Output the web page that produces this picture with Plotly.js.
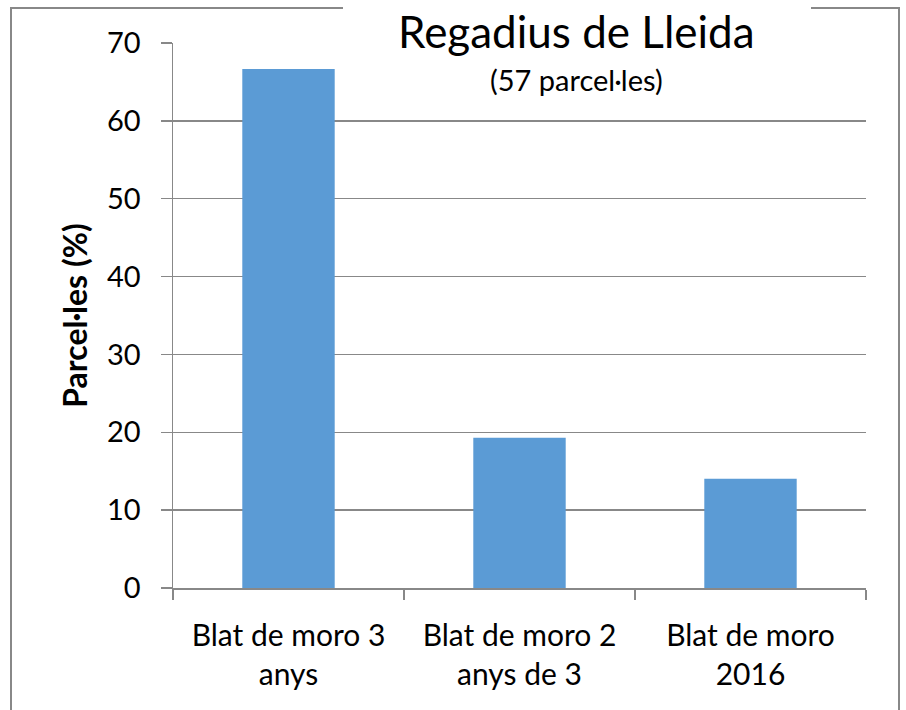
<!DOCTYPE html>
<html>
<head>
<meta charset="utf-8">
<script src="https://cdn.plot.ly/plotly-3.0.1.min.js"></script>
<style>html,body{margin:0;padding:0;background:#fff;}#chart{width:906px;height:710px;}</style>
</head>
<body>
<div id="chart"></div>
<script>
const categories = ["Blat de moro 3<br>anys", "Blat de moro 2<br>anys de 3", "Blat de moro<br>2016"];
const values = [66.67, 19.30, 14.04];
const yTicks = [0, 10, 20, 30, 40, 50, 60, 70];
const titleText = "Regadius de Lleida";
const subtitleText = "(57 parcel·les)";
const yTitle = "Parcel·les (%)";

const W = 906, H = 710;
const L = 173, R = 866, T = 43, B = 588;
const px = x => (x - L) / (R - L);
const py = y => (B - y) / (B - T);
const FONT = "Lato, 'Open Sans', sans-serif";
const GRAY = "#888888";

const data = [{
  type: "bar",
  x: categories,
  y: values,
  marker: {color: "#5B9BD5"},
  hoverinfo: "x+y"
}];

const layout = {
  width: W, height: H,
  margin: {l: L, r: W - R, t: T, b: H - B, pad: 0},
  paper_bgcolor: "#fff", plot_bgcolor: "#fff",
  showlegend: false,
  bargap: 0.6,
  font: {family: FONT, color: "#000", size: 29},
  xaxis: {
    type: "category",
    range: [-0.5, 2.5],
    tickson: "boundaries",
    ticks: "outside", ticklen: 10, tickwidth: 1.5, tickcolor: GRAY,
    showline: true, linecolor: GRAY, linewidth: 1.5,
    showgrid: false,
    tickfont: {family: FONT, size: 30, color: "#000"},
    ticklabelstandoff: 20,
    fixedrange: true
  },
  yaxis: {
    range: [0, 70],
    tickvals: yTicks,
    ticktext: yTicks.map(String),
    ticks: "outside", ticklen: 11, tickwidth: 1.5, tickcolor: GRAY,
    showline: true, linecolor: GRAY, linewidth: 1.5,
    showgrid: true, gridcolor: GRAY, gridwidth: 1.5,
    zeroline: false,
    tickfont: {family: FONT, size: 29, color: "#000"},
    ticklabelstandoff: 14,
    title: {text: "<b>" + yTitle + "</b>", font: {family: FONT, size: 32, color: "#000"}, standoff: 10},
    fixedrange: true
  },
  shapes: [
    {type: "rect", xref: "paper", yref: "paper", x0: px(11), x1: px(899), y0: py(725), y1: py(8),
     line: {color: GRAY, width: 2}, fillcolor: "rgba(0,0,0,0)", layer: "above"},
    {type: "rect", xref: "paper", yref: "paper", x0: px(343), x1: px(811), y0: py(100), y1: py(2),
     line: {width: 0}, fillcolor: "#ffffff", layer: "above"}
  ],
  annotations: [
    {text: titleText, xref: "paper", yref: "paper", x: px(576), y: py(31), xanchor: "center", yanchor: "middle",
     showarrow: false, font: {family: FONT, size: 44, color: "#000"}},
    {text: subtitleText, xref: "paper", yref: "paper", x: px(576), y: py(79), xanchor: "center", yanchor: "middle",
     showarrow: false, font: {family: FONT, size: 29, color: "#000"}}
  ]
};

Plotly.newPlot("chart", data, layout, {displayModeBar: false, staticPlot: true});
</script>
</body>
</html>
